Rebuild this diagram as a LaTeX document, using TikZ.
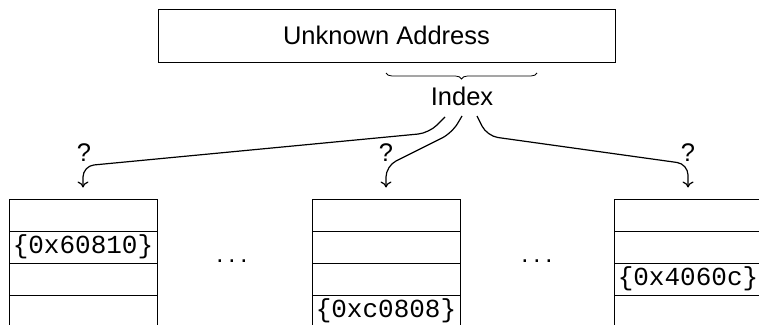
\documentclass[tikz,border=0pt]{standalone}
\usepackage{fontspec}
\setmainfont{Liberation Sans}
\setmonofont{Liberation Mono}
\usetikzlibrary{arrows.meta,decorations.pathreplacing}
\begin{document}
\begin{tikzpicture}[x=1pt,y=-1pt,
  lbl/.style={font=\fontsize{25.5}{30}\selectfont, inner sep=0pt},
  cell/.style={draw, line width=1pt, minimum width=148pt, minimum height=32pt,
    inner sep=0pt, font=\fontsize{26}{30}\selectfont\ttfamily},
  link/.style={line width=1.2pt, rounded corners=11pt,
    -{Computer Modern Rightarrow[length=6pt,width=11pt]}},
  dots/.style={lbl, anchor=base}
]
\useasboundingbox (0,0) rectangle (759,324);
\clip (0,0) rectangle (759,324);

% address register and its index field
\node[draw, line width=1pt, minimum width=457pt, minimum height=53pt, lbl]
  (addr) at (386.5,35.5) {Unknown Address};
\coordinate (bl) at (386,73);
\coordinate (br) at (537,73);
\draw[line width=0.8pt, decorate, decoration={brace, amplitude=6pt}] (br) -- (bl);
\node[lbl] (idx) at (462,96) {Index};

% left table
\node[cell] (L1) at (83,215) {};
\node[cell] (L2) at (83,247) {\{0x60810\}};
\node[cell] (L3) at (83,279) {};
\node[cell] (L4) at (83,311) {};

% middle table
\node[cell] (M1) at (386,215) {};
\node[cell] (M2) at (386,247) {};
\node[cell] (M3) at (386,279) {};
\node[cell] (M4) at (386,311) {\{0xc0808\}};

% right table
\node[cell] (R1) at (688,215) {};
\node[cell] (R2) at (688,247) {};
\node[cell] (R3) at (688,279) {\{0x4060c\}};
\node[cell] (R4) at (688,311) {};

% elided tables
\node[dots] (d1) at (232,262) {.\hspace{4.9pt}.\hspace{4.9pt}.};
\node[dots] (d2) at (537,262) {.\hspace{4.9pt}.\hspace{4.9pt}.};

% question marks over the lookups
\node[lbl] (q1) at (84,152.5) {?};
\node[lbl] (q2) at (386,152.5) {?};
\node[lbl] (q3) at (688,152.5) {?};

% lookups from the index into each table
\coordinate (sL) at (445,117);
\coordinate (sM) at (462,116);
\coordinate (sR) at (477,116);
\draw[link] (sL) -- (429,133) -- (83,166) -- ([yshift=11pt]L1.north);
\draw[link] (sM) -- (452,133) -- (386,166) -- ([yshift=11pt]M1.north);
\draw[link] (sR) -- (487,136) -- (688,164) -- ([yshift=11pt]R1.north);
\end{tikzpicture}
\end{document}
